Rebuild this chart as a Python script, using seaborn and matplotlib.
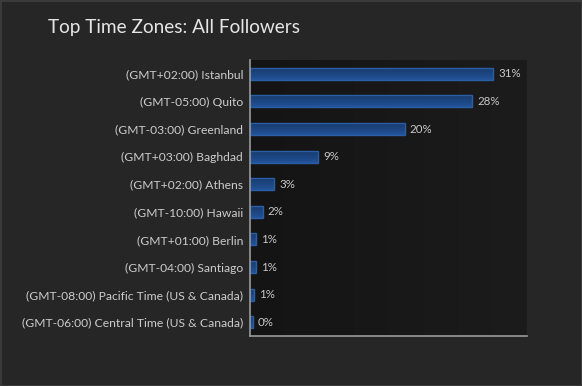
import numpy as np
import pandas as pd
import seaborn as sns
import matplotlib.pyplot as plt
from matplotlib.colors import LinearSegmentedColormap

zones = [
    "(GMT+02:00) Istanbul",
    "(GMT-05:00) Quito",
    "(GMT-03:00) Greenland",
    "(GMT+03:00) Baghdad",
    "(GMT+02:00) Athens",
    "(GMT-10:00) Hawaii",
    "(GMT+01:00) Berlin",
    "(GMT-04:00) Santiago",
    "(GMT-08:00) Pacific Time (US & Canada)",
    "(GMT-06:00) Central Time (US & Canada)",
]
share = [31.0, 28.3, 19.7, 8.7, 3.1, 1.6, 0.73, 0.73, 0.5, 0.35]
share_labels = ["31%", "28%", "20%", "9%", "3%", "2%", "1%", "1%", "1%", "0%"]

df = pd.DataFrame({"zone": zones, "share": share})

sns.set_theme(style="white")
plt.rcParams["font.family"] = ["Lato", "DejaVu Sans"]

fig = plt.figure(figsize=(5.82, 3.86), dpi=100)
fig.patch.set_facecolor("#262626")
fig.patch.set_edgecolor("#3a3a3a")
fig.patch.set_linewidth(2)
ax = fig.add_axes([0.4296, 0.1295, 0.4759, 0.715])
ax.set_facecolor("#171717")

# subtle left-to-right gradient behind the bars
grad = np.linspace(0, 1, 256).reshape(1, -1)
ax.imshow(grad, extent=[0, 1, 0, 1], transform=ax.transAxes, aspect="auto",
          cmap=LinearSegmentedColormap.from_list("bg", ["#141414", "#1c1c1c"]),
          zorder=0)

sns.barplot(data=df, x="share", y="zone", orient="h", color="#1d4783",
            width=0.43, saturation=1, ax=ax, zorder=2)

# vertical gradient inside every bar
bar_cmap = LinearSegmentedColormap.from_list("bar", ["#235399", "#173a6c"])
vgrad = np.linspace(0, 1, 64).reshape(-1, 1)
for p in ax.patches:
    p.set_edgecolor("#2a5ea6")
    p.set_linewidth(1)
    x0, y0 = p.get_x(), p.get_y()
    w, h = p.get_width(), p.get_height()
    im = ax.imshow(vgrad, extent=[x0, x0 + w, y0, y0 + h], aspect="auto",
                   cmap=bar_cmap, origin="upper", zorder=2.5)
    im.set_clip_path(p)
    p.set_zorder(3)
    p.set_facecolor("none")

ax.bar_label(ax.containers[0], labels=share_labels, padding=3.5,
             color="#c8c8c8", fontsize=8.3)

ax.set_xlim(0, 35.3)
ax.set_ylim(9.5, -0.5)
ax.set_xlabel("")
ax.set_ylabel("")
ax.set_xticks([])
ax.tick_params(axis="y", length=0, pad=5, labelsize=8.75, labelcolor="#cccccc")
for s in ["top", "right"]:
    ax.spines[s].set_visible(False)
for s in ["left", "bottom"]:
    ax.spines[s].set_color("#9a9a9a")
    ax.spines[s].set_linewidth(1.2)
    ax.spines[s].set_zorder(4)

fig.text(48 / 582, 1 - 28 / 386, "Top Time Zones: All Followers",
         color="#e6e6e6", fontsize=13.7, va="center", ha="left")

fig.savefig("out.png", dpi=100, facecolor=fig.get_facecolor(),
            edgecolor=fig.get_edgecolor())
